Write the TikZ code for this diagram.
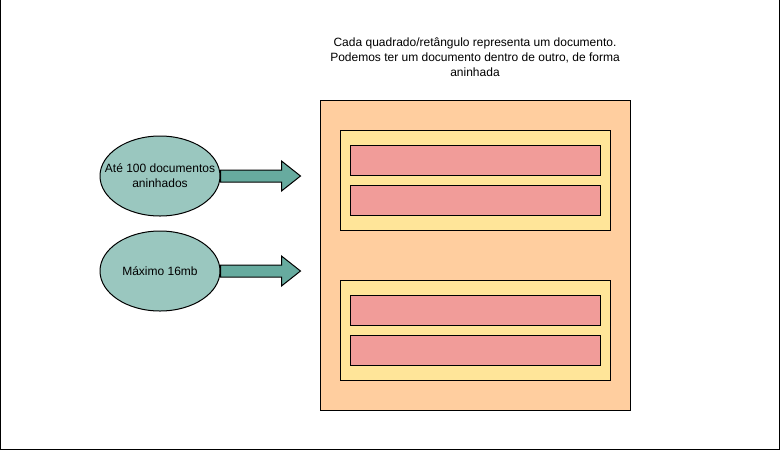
\documentclass[tikz,border=0pt]{standalone}
\usepackage{fontspec}
\setmainfont{Liberation Sans}
\definecolor{docorange}{HTML}{FFCE9F}
\definecolor{docyellow}{HTML}{FFE599}
\definecolor{docpink}{HTML}{F19C99}
\definecolor{notegreen}{HTML}{9AC7BF}
\definecolor{arrowgreen}{HTML}{67AB9F}
\usepackage{tikz}
\usetikzlibrary{shapes, calc, positioning}

\begin{document}
\begin{tikzpicture}[x=1pt, y=-1pt, line width=1pt,
    txt/.style={font=\fontsize{12}{15}\selectfont, align=center},
    docbox/.style={draw, rectangle, inner sep=0pt},
    notebubble/.style={draw, ellipse, fill=notegreen, minimum width=120pt, minimum height=80pt, inner sep=0pt},
    blockarrow/.style={draw, fill=arrowgreen, line join=miter}]
  \useasboundingbox (0,0) rectangle (781,451);
  \draw (0.5,0) -- (0.5,449.5) -- (779.5,449.5) -- (779.5,0);

  % documents
  \node[docbox, fill=docorange, minimum width=310pt, minimum height=310pt] (outer) at (475,255) {};
  \node[docbox, fill=docyellow, minimum width=270pt, minimum height=100pt] (inner1) at (475,180) {};
  \node[docbox, fill=docyellow, minimum width=270pt, minimum height=100pt] (inner2) at (475,330) {};
  \foreach \y/\n in {160/a, 200/b, 310/c, 350/d}
    \node[docbox, fill=docpink, minimum width=250pt, minimum height=30pt] (leaf\n) at (475,\y) {};

  \node[txt] (caption) at (475,57) {Cada quadrado/retângulo representa um documento.\\Podemos ter um documento dentro de outro, de forma\\aninhada};

  % notes
  \node[notebubble] (limitdocs) at (160,176) {};
  \node[txt] (limitdocstext) at (limitdocs) {Até 100 documentos\\aninhados};
  \node[notebubble] (limitsize) at (160,271) {};
  \node[txt] (limitsizetext) at (limitsize) {Máximo 16mb};

  \foreach \src in {limitdocs, limitsize}
    \draw[blockarrow] ($(\src.east)+(0,-6)$) -- ++(61,0) -- ++(0,-9) -- ++(19,15)
      -- ++(-19,15) -- ++(0,-9) -- ++(-61,0) -- cycle;
\end{tikzpicture}
\end{document}
